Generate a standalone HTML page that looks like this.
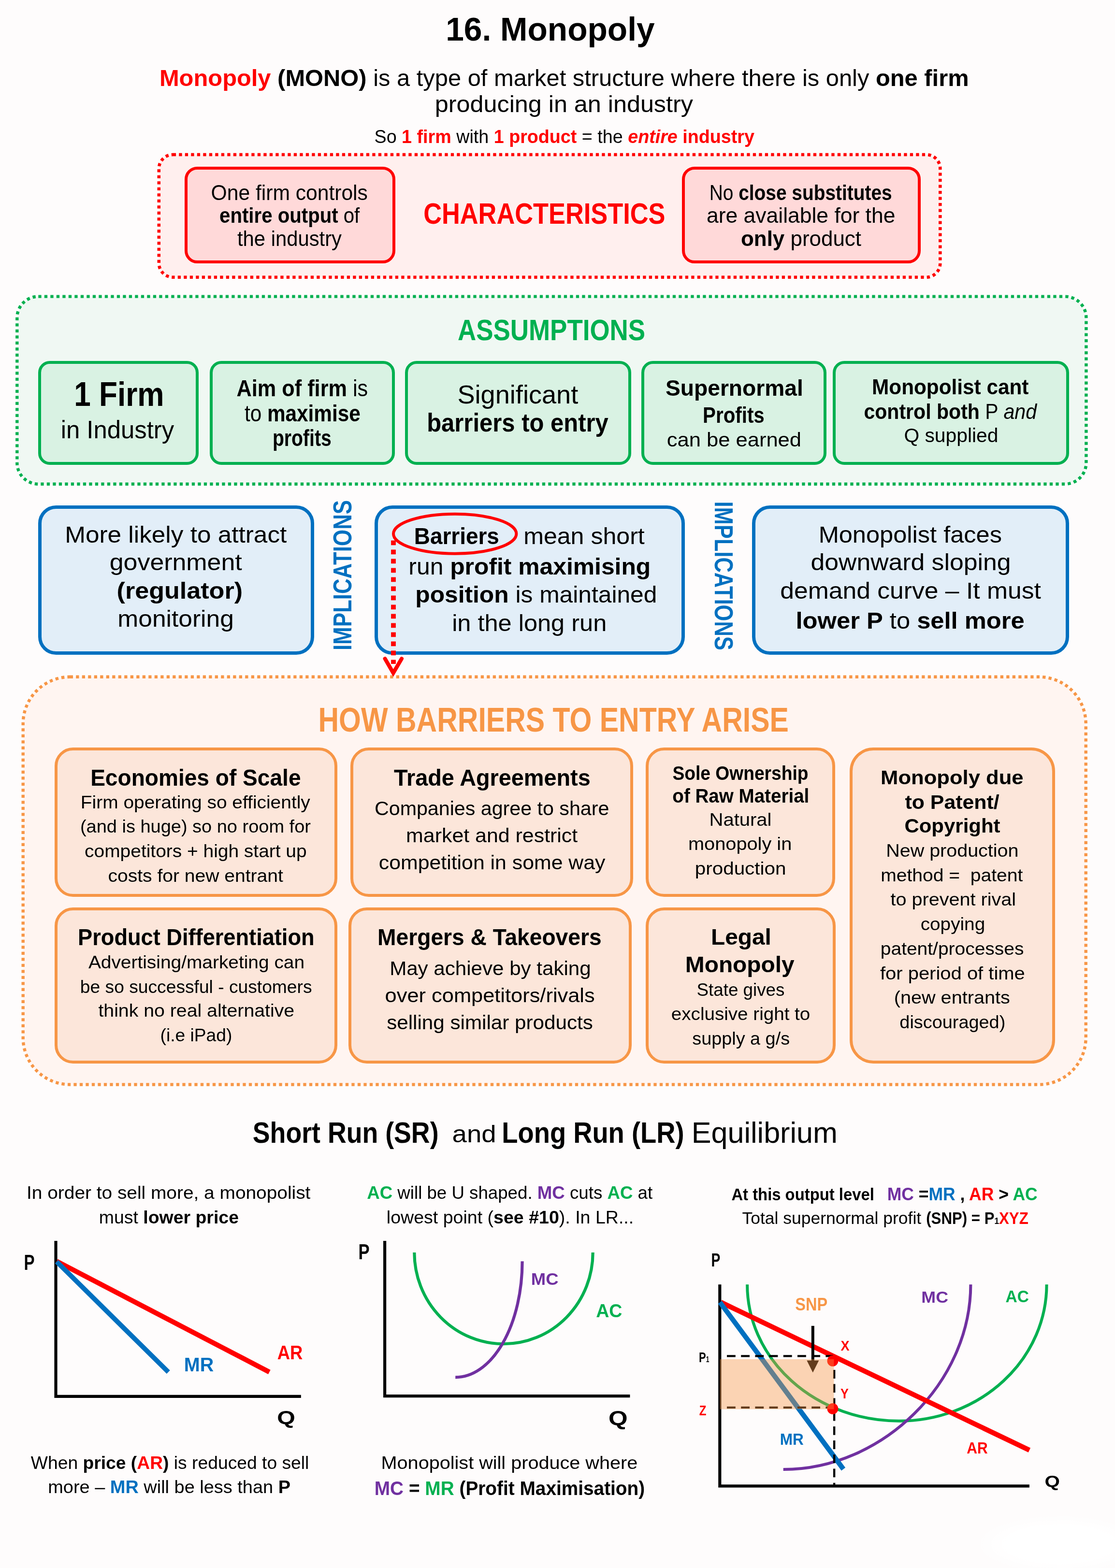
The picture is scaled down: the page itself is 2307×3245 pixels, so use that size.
<!DOCTYPE html>
<html lang="en">
<head>
<meta charset="utf-8">
<title>16. Monopoly</title>
<style>
html,body{margin:0;padding:0;}
body{width:2307px;height:3245px;position:relative;overflow:hidden;background:#fefcfc;font-family:"Liberation Sans",sans-serif;color:#000;}
svg{position:absolute;left:0;top:0;}
.bx{position:absolute;box-sizing:border-box;border-style:solid;}
.red{border-color:#ff0000;background:#ffd9d9;}
.grn{border-color:#00b050;background:#d9f2e3;}
.blu{border-color:#0070c0;background:#e2eef8;}
.org{border-color:#f79646;background:#fce6da;}
.blob{position:absolute;left:2020px;top:3135px;width:287px;height:110px;background:radial-gradient(ellipse at 60% 55%,#fff 0,#fff 45%,rgba(255,255,255,0) 72%);}
.t{position:absolute;left:0;top:0;white-space:pre;line-height:1;transform-origin:0 0;}
</style>
</head>
<body>
<svg width="2307" height="3245" viewBox="0 0 2307 3245">
<rect x="328.8" y="320" width="1616.5" height="253.8" rx="29" ry="29" fill="#ffefee" stroke="#ff0000" stroke-width="6.5" stroke-dasharray="6.3 6.2"/>
<rect x="35.3" y="613.6" width="2212.1" height="388.1" rx="44" ry="44" fill="#f0f8f3" stroke="#00b050" stroke-width="6.4" stroke-dasharray="6.3 6.2"/>
<rect x="47.7" y="1400.8" width="2199.0" height="843.7" rx="97" ry="97" fill="#fff5f1" stroke="#f79646" stroke-width="6.4" stroke-dasharray="6.3 6.2"/>
</svg>
<div class="bx red" style="left:382.0px;top:345.2px;width:436.0px;height:200.3px;border-width:6.5px;border-radius:26px"></div>
<div class="bx red" style="left:1410.5px;top:345.2px;width:494.3px;height:200.3px;border-width:6.5px;border-radius:26px"></div>
<div class="bx grn" style="left:78.7px;top:746.8px;width:332.5px;height:215.2px;border-width:6.3px;border-radius:24px"></div>
<div class="bx grn" style="left:434.0px;top:746.8px;width:383.0px;height:215.2px;border-width:6.3px;border-radius:24px"></div>
<div class="bx grn" style="left:837.8px;top:746.8px;width:468.2px;height:215.2px;border-width:6.3px;border-radius:24px"></div>
<div class="bx grn" style="left:1326.5px;top:746.8px;width:383.6px;height:215.2px;border-width:6.3px;border-radius:24px"></div>
<div class="bx grn" style="left:1722.9px;top:746.8px;width:489.4px;height:215.2px;border-width:6.3px;border-radius:24px"></div>
<div class="bx blu" style="left:78.7px;top:1045.7px;width:571.3px;height:309.3px;border-width:7px;border-radius:37px"></div>
<div class="bx blu" style="left:774.6px;top:1045.7px;width:642.0px;height:309.3px;border-width:7px;border-radius:37px"></div>
<div class="bx blu" style="left:1555.8px;top:1045.7px;width:656.5px;height:309.3px;border-width:7px;border-radius:37px"></div>
<div class="bx org" style="left:112.7px;top:1547.4px;width:585.7px;height:309.1px;border-width:6.3px;border-radius:38px"></div>
<div class="bx org" style="left:724.8px;top:1547.4px;width:585.6px;height:309.1px;border-width:6.3px;border-radius:38px"></div>
<div class="bx org" style="left:1335.9px;top:1547.4px;width:392.4px;height:309.1px;border-width:6.3px;border-radius:38px"></div>
<div class="bx org" style="left:1757.8px;top:1547.3px;width:425.2px;height:653.8px;border-width:6.3px;border-radius:49px"></div>
<div class="bx org" style="left:112.9px;top:1877.6px;width:585.5px;height:323.5px;border-width:6.3px;border-radius:38px"></div>
<div class="bx org" style="left:720.7px;top:1877.6px;width:585.9px;height:323.5px;border-width:6.3px;border-radius:38px"></div>
<div class="bx org" style="left:1336.0px;top:1877.6px;width:393.0px;height:323.5px;border-width:6.3px;border-radius:38px"></div>
<svg width="2307" height="3245" viewBox="0 0 2307 3245">
<!-- Barriers ellipse + dotted arrow -->
<ellipse cx="941.2" cy="1104.7" rx="127.2" ry="41" fill="none" stroke="#ff0000" stroke-width="6"/>
<line x1="814" y1="1118.4" x2="814" y2="1374" stroke="#ff0000" stroke-width="9.8" stroke-dasharray="9.8 9.2"/>
<polyline points="796.6,1363.2 813.7,1392.7 831,1363.2" fill="none" stroke="#ff0000" stroke-width="8" stroke-linecap="round" stroke-linejoin="miter"/>
<!-- graph 1 -->
<polyline points="115.5,2567.9 115.5,2889.9 622.8,2889.9" fill="none" stroke="#000" stroke-width="6.2"/>
<line x1="117.2" y1="2610.2" x2="557.3" y2="2839.5" stroke="#ff0000" stroke-width="10.2"/>
<line x1="117.2" y1="2611" x2="348.3" y2="2839.5" stroke="#0070c0" stroke-width="9.8"/>
<!-- graph 2 -->
<polyline points="796.1,2568 796.1,2889.1 1303.4,2889.1" fill="none" stroke="#000" stroke-width="6.2"/>
<path d="M857.3 2592 A184.7 189.4 0 0 0 1226.7 2592" fill="none" stroke="#00b050" stroke-width="6.2"/>
<path d="M942.2 2850.3 A138.4 240 0 0 0 1080.6 2610.3" fill="none" stroke="#7030a0" stroke-width="6.2"/>
<!-- graph 3 -->
<polyline points="1489.3,2658.2 1489.3,3075.4 2129.9,3075.4" fill="none" stroke="#000" stroke-width="6.2"/>
<path d="M1546.1 2658.2 A313.9 282.6 0 0 0 1860 2940.8 A305.6 282.6 0 0 0 2165.6 2658.2" fill="none" stroke="#00b050" stroke-width="6"/>
<path d="M1620.7 3041.1 C1826.2 3041.1 2008.4 2861.1 2008.4 2658.2" fill="none" stroke="#7030a0" stroke-width="6"/>
<line x1="1491.4" y1="2695" x2="2129.9" y2="3001.1" stroke="#ff0000" stroke-width="10.3"/>
<line x1="1489.6" y1="2695" x2="1745" y2="3040.4" stroke="#0070c0" stroke-width="10.2"/>
<line x1="1504" y1="2806.4" x2="1723.6" y2="2806.4" stroke="#000" stroke-width="4.4" stroke-dasharray="17.8 11.4"/>
<line x1="1504" y1="2912.9" x2="1716" y2="2912.9" stroke="#000" stroke-width="4.4" stroke-dasharray="17.8 11.4"/>
<line x1="1726.1" y1="2805.9" x2="1726.1" y2="3074" stroke="#000" stroke-width="4.4" stroke-dasharray="17.8 11.4"/>
<line x1="1681.8" y1="2743.9" x2="1681.8" y2="2816" stroke="#000" stroke-width="6"/>
<polygon points="1669.3,2815.4 1694.3,2815.4 1681.8,2840.4" fill="#000"/>
<circle cx="1722.9" cy="2816.4" r="11.4" fill="#ff0000"/>
<circle cx="1722.9" cy="2915.4" r="11.4" fill="#ff0000"/>
<rect x="1489.3" y="2812.9" width="236.1" height="103.5" fill="#f79646" fill-opacity="0.4"/>

</svg>
<div class="t" style="font-size:67.62px;transform:translate(926.2px,84.0px) scaleX(1.0010) translate(-4.00px,-57.14px)"><b>16. Monopoly</b></div>
<div class="t" style="font-size:47.8px;transform:translate(333.0px,178.5px) scaleX(1.0219) translate(-3.00px,-40.39px)"><b><span style="color:#ff0000">Monopoly</span></b><b> (MONO)</b> is a type of market structure where there is only <b>one firm</b></div>
<div class="t" style="font-size:47.8px;transform:translate(903.0px,232.8px) scaleX(1.0523) translate(-3.00px,-40.39px)">producing in an industry</div>
<div class="t" style="font-size:39.33px;transform:translate(775.5px,296.5px) scaleX(0.9582) translate(-1.00px,-33.23px)">So <b><span style="color:#ff0000">1 firm</span></b> with <b><span style="color:#ff0000">1 product</span></b> = the <b><i><span style="color:#ff0000">entire</span></i></b><b><span style="color:#ff0000"> industry</span></b></div>
<div class="t" style="font-size:60.51px;transform:translate(877.9px,462.8px) scaleX(0.8655) translate(-2.00px,-51.13px)"><b><span style="color:#ff0000">CHARACTERISTICS</span></b></div>
<div class="t" style="font-size:43.87px;transform:translate(438.5px,413.6px) scaleX(0.9713) translate(-2.00px,-37.07px)">One firm controls</div>
<div class="t" style="font-size:43.87px;transform:translate(455.0px,460.7px) scaleX(0.9161) translate(-1.00px,-37.07px)"><b>entire output</b> of</div>
<div class="t" style="font-size:43.87px;transform:translate(491.0px,509.5px) scaleX(0.9524) translate(0.00px,-37.07px)">the industry</div>
<div class="t" style="font-size:43.87px;transform:translate(1470.3px,413.6px) scaleX(0.8862) translate(-3.00px,-37.07px)">No <b>close substitutes</b></div>
<div class="t" style="font-size:43.87px;transform:translate(1463.0px,460.7px) scaleX(1.0135) translate(-1.00px,-37.07px)">are available for the</div>
<div class="t" style="font-size:43.87px;transform:translate(1534.0px,509.5px) scaleX(1.0014) translate(-1.00px,-37.07px)"><b>only</b> product</div>
<div class="t" style="font-size:60.81px;transform:translate(947.9px,704.3px) scaleX(0.8702) translate(-1.00px,-51.38px)"><b><span style="color:#00b050">ASSUMPTIONS</span></b></div>
<div class="t" style="font-size:70.34px;transform:translate(156.8px,840.5px) scaleX(0.8825) translate(-4.00px,-59.44px)"><b>1 Firm</b></div>
<div class="t" style="font-size:52.04px;transform:translate(128.6px,907.0px) scaleX(0.9771) translate(-3.00px,-43.97px)">in Industry</div>
<div class="t" style="font-size:47.8px;transform:translate(490.5px,820.0px) scaleX(0.9052) translate(-1.00px,-40.39px)"><b>Aim of firm</b> is</div>
<div class="t" style="font-size:47.8px;transform:translate(506.0px,872.6px) scaleX(0.8844) translate(0.00px,-40.39px)">to <b>maximise</b></div>
<div class="t" style="font-size:47.8px;transform:translate(566.4px,923.6px) scaleX(0.8188) translate(-3.00px,-40.39px)"><b>profits</b></div>
<div class="t" style="font-size:53.7px;transform:translate(948.5px,835.0px) scaleX(1.0082) translate(-2.00px,-45.38px)">Significant</div>
<div class="t" style="font-size:53.7px;transform:translate(885.9px,893.1px) scaleX(0.9122) translate(-3.00px,-45.38px)"><b>barriers to entry</b></div>
<div class="t" style="font-size:46.14px;transform:translate(1378.0px,818.9px) scaleX(1.0011) translate(-1.00px,-38.99px)"><b>Supernormal</b></div>
<div class="t" style="font-size:46.14px;transform:translate(1456.7px,875.4px) scaleX(0.8740) translate(-3.00px,-38.99px)"><b>Profits</b></div>
<div class="t" style="font-size:40.84px;transform:translate(1380.8px,924.2px) scaleX(1.0660) translate(-1.00px,-34.51px)">can be earned</div>
<div class="t" style="font-size:44.47px;transform:translate(1806.0px,816.1px) scaleX(0.9514) translate(-2.00px,-37.58px)"><b>Monopolist cant</b></div>
<div class="t" style="font-size:44.47px;transform:translate(1788.3px,867.1px) scaleX(0.9238) translate(-1.00px,-37.58px)"><b>control both</b> P <i>and</i></div>
<div class="t" style="font-size:40.84px;transform:translate(1871.4px,915.3px) scaleX(0.9990) translate(-1.00px,-34.51px)">Q supplied</div>
<div class="t" style="font-size:47.8px;transform:translate(137.4px,1123.0px) scaleX(1.0736) translate(-3.00px,-40.39px)">More likely to attract</div>
<div class="t" style="font-size:47.8px;transform:translate(228.9px,1180.1px) scaleX(1.0855) translate(-2.00px,-40.39px)">government</div>
<div class="t" style="font-size:47.8px;transform:translate(243.8px,1239.4px) scaleX(1.0895) translate(-2.00px,-40.39px)"><b>(regulator)</b></div>
<div class="t" style="font-size:47.8px;transform:translate(246.6px,1297.6px) scaleX(1.0773) translate(-3.00px,-40.39px)">monitoring</div>
<div class="t" style="font-size:47.8px;transform:translate(859.6px,1126.4px) scaleX(0.9610) translate(-3.00px,-40.39px)"><b>Barriers</b></div>
<div class="t" style="font-size:47.8px;transform:translate(1086.3px,1126.4px) scaleX(1.0482) translate(-3.00px,-40.39px)">mean short</div>
<div class="t" style="font-size:47.8px;transform:translate(848.5px,1189.5px) scaleX(1.0419) translate(-3.00px,-40.39px)">run <b>profit maximising</b></div>
<div class="t" style="font-size:47.8px;transform:translate(862.4px,1247.7px) scaleX(1.0403) translate(-3.00px,-40.39px)"><b>position</b> is maintained</div>
<div class="t" style="font-size:47.8px;transform:translate(938.3px,1305.9px) scaleX(1.0567) translate(-3.00px,-40.39px)">in the long run</div>
<div class="t" style="font-size:47.8px;transform:translate(1696.8px,1123.0px) scaleX(1.0576) translate(-3.00px,-40.39px)">Monopolist faces</div>
<div class="t" style="font-size:47.8px;transform:translate(1679.7px,1180.1px) scaleX(1.0819) translate(-2.00px,-40.39px)">downward sloping</div>
<div class="t" style="font-size:47.8px;transform:translate(1616.5px,1239.4px) scaleX(1.0801) translate(-2.00px,-40.39px)">demand curve – It must</div>
<div class="t" style="font-size:47.8px;transform:translate(1649.7px,1300.9px) scaleX(1.0602) translate(-3.00px,-40.39px)"><b>lower P</b> to <b>sell more</b></div>
<div class="t" style="font-size:52.95px;transform:translate(727.7px,1343.6px) rotate(-90deg) scaleX(0.8288) translate(-3.00px,-44.74px)"><b><span style="color:#0070c0">IMPLICATIONS</span></b></div>
<div class="t" style="font-size:52.95px;transform:translate(1478.6px,1040.0px) rotate(90deg) scaleX(0.8210) translate(-3.00px,-44.74px)"><b><span style="color:#0070c0">IMPLICATIONS</span></b></div>
<div class="t" style="font-size:69.59px;transform:translate(661.8px,1515.0px) scaleX(0.8479) translate(-4.00px,-58.80px)"><b><span style="color:#f79646">HOW BARRIERS TO ENTRY ARISE</span></b></div>
<div class="t" style="font-size:48.1px;transform:translate(190.0px,1625.3px) scaleX(0.9582) translate(-3.00px,-40.64px)"><b>Economies of Scale</b></div>
<div class="t" style="font-size:36.0px;transform:translate(169.0px,1673.7px) scaleX(1.0806) translate(-2.00px,-30.42px)">Firm operating so efficiently</div>
<div class="t" style="font-size:36.0px;transform:translate(168.0px,1723.6px) scaleX(1.0548) translate(-2.00px,-30.42px)">(and is huge) so no room for</div>
<div class="t" style="font-size:36.0px;transform:translate(176.2px,1774.6px) scaleX(1.0806) translate(-1.00px,-30.42px)">competitors + high start up</div>
<div class="t" style="font-size:36.0px;transform:translate(224.5px,1825.0px) scaleX(1.0845) translate(-1.00px,-30.42px)">costs for new entrant</div>
<div class="t" style="font-size:48.1px;transform:translate(815.0px,1625.3px) scaleX(0.9734) translate(0.00px,-40.64px)"><b>Trade Agreements</b></div>
<div class="t" style="font-size:41.15px;transform:translate(777.0px,1687.7px) scaleX(1.0011) translate(-2.00px,-34.77px)">Companies agree to share</div>
<div class="t" style="font-size:41.15px;transform:translate(842.2px,1743.8px) scaleX(1.0424) translate(-2.00px,-34.77px)">market and restrict</div>
<div class="t" style="font-size:41.15px;transform:translate(784.9px,1799.8px) scaleX(1.0403) translate(-1.00px,-34.77px)">competition in some way</div>
<div class="t" style="font-size:40.24px;transform:translate(1392.3px,1615.3px) scaleX(0.9248) translate(-1.00px,-34.00px)"><b>Sole Ownership</b></div>
<div class="t" style="font-size:40.24px;transform:translate(1392.3px,1661.8px) scaleX(0.9588) translate(-1.00px,-34.00px)"><b>of Raw Material</b></div>
<div class="t" style="font-size:36.0px;transform:translate(1469.8px,1709.6px) scaleX(1.1102) translate(-2.00px,-30.42px)">Natural</div>
<div class="t" style="font-size:36.0px;transform:translate(1426.2px,1759.5px) scaleX(1.1037) translate(-2.00px,-30.42px)">monopoly in</div>
<div class="t" style="font-size:36.0px;transform:translate(1440.1px,1810.8px) scaleX(1.1213) translate(-2.00px,-30.42px)">production</div>
<div class="t" style="font-size:39.78px;transform:translate(1824.3px,1623.4px) scaleX(1.0966) translate(-2.00px,-33.61px)"><b>Monopoly due</b></div>
<div class="t" style="font-size:39.78px;transform:translate(1872.5px,1674.2px) scaleX(1.0772) translate(0.00px,-33.61px)"><b>to Patent/</b></div>
<div class="t" style="font-size:39.78px;transform:translate(1872.5px,1724.1px) scaleX(1.0551) translate(-1.00px,-33.61px)"><b>Copyright</b></div>
<div class="t" style="font-size:36.0px;transform:translate(1835.4px,1773.5px) scaleX(1.0966) translate(-2.00px,-30.42px)">New production</div>
<div class="t" style="font-size:36.0px;transform:translate(1824.3px,1824.2px) scaleX(1.0851) translate(-2.00px,-30.42px)">method =  patent</div>
<div class="t" style="font-size:36.0px;transform:translate(1842.6px,1874.9px) scaleX(1.0990) translate(0.00px,-30.42px)">to prevent rival</div>
<div class="t" style="font-size:36.0px;transform:translate(1905.8px,1925.6px) scaleX(1.0755) translate(-1.00px,-30.42px)">copying</div>
<div class="t" style="font-size:36.0px;transform:translate(1824.0px,1976.3px) scaleX(1.0816) translate(-2.00px,-30.42px)">patent/processes</div>
<div class="t" style="font-size:36.0px;transform:translate(1820.9px,2027.0px) scaleX(1.1104) translate(0.00px,-30.42px)">for period of time</div>
<div class="t" style="font-size:36.0px;transform:translate(1851.9px,2077.7px) scaleX(1.1008) translate(-2.00px,-30.42px)">(new entrants</div>
<div class="t" style="font-size:36.0px;transform:translate(1862.4px,2128.4px) scaleX(1.0520) translate(-1.00px,-30.42px)">discouraged)</div>
<div class="t" style="font-size:48.1px;transform:translate(163.9px,1956.1px) scaleX(0.9396) translate(-3.00px,-40.64px)"><b>Product Differentiation</b></div>
<div class="t" style="font-size:36.0px;transform:translate(182.9px,2004.6px) scaleX(1.0796) translate(0.00px,-30.42px)">Advertising/marketing can</div>
<div class="t" style="font-size:36.0px;transform:translate(167.9px,2055.0px) scaleX(1.0335) translate(-2.00px,-30.42px)">be so successful - customers</div>
<div class="t" style="font-size:36.0px;transform:translate(203.4px,2104.9px) scaleX(1.0900) translate(0.00px,-30.42px)">think no real alternative</div>
<div class="t" style="font-size:36.0px;transform:translate(333.6px,2155.9px) scaleX(1.0331) translate(-2.00px,-30.42px)">(i.e iPad)</div>
<div class="t" style="font-size:48.1px;transform:translate(784.0px,1956.1px) scaleX(0.9596) translate(-3.00px,-40.64px)"><b>Mergers &amp; Takeovers</b></div>
<div class="t" style="font-size:41.15px;transform:translate(809.2px,2019.0px) scaleX(1.0232) translate(-3.00px,-34.77px)">May achieve by taking</div>
<div class="t" style="font-size:41.15px;transform:translate(797.6px,2074.9px) scaleX(1.0550) translate(-1.00px,-34.77px)">over competitors/rivals</div>
<div class="t" style="font-size:41.15px;transform:translate(801.2px,2130.4px) scaleX(1.0252) translate(-1.00px,-34.77px)">selling similar products</div>
<div class="t" style="font-size:46.14px;transform:translate(1474.0px,1955.2px) scaleX(1.0379) translate(-3.00px,-38.99px)"><b>Legal</b></div>
<div class="t" style="font-size:46.14px;transform:translate(1420.9px,2011.8px) scaleX(1.0376) translate(-3.00px,-38.99px)"><b>Monopoly</b></div>
<div class="t" style="font-size:36.0px;transform:translate(1442.6px,2061.4px) scaleX(1.0210) translate(-1.00px,-30.42px)">State gives</div>
<div class="t" style="font-size:36.0px;transform:translate(1389.9px,2111.6px) scaleX(1.0722) translate(-1.00px,-30.42px)">exclusive right to</div>
<div class="t" style="font-size:36.0px;transform:translate(1433.3px,2162.4px) scaleX(1.0504) translate(-1.00px,-30.42px)">supply a g/s</div>
<div class="t" style="font-size:60.51px;transform:translate(523.7px,2365.3px) scaleX(0.8874) translate(-1.00px,-51.13px)"><b>Short Run (SR)</b></div>
<div class="t" style="font-size:49.92px;transform:translate(937.7px,2365.3px) scaleX(1.0941) translate(-2.00px,-42.18px)">and</div>
<div class="t" style="font-size:60.51px;transform:translate(1041.9px,2365.3px) scaleX(0.8982) translate(-4.00px,-51.13px)"><b>Long Run (LR)</b></div>
<div class="t" style="font-size:60.51px;transform:translate(1434.7px,2365.3px) scaleX(1.0101) translate(-4.00px,-51.13px)">Equilibrium</div>
<div class="t" style="font-size:36.76px;transform:translate(58.2px,2481.7px) scaleX(1.0572) translate(-3.00px,-31.06px)">In order to sell more, a monopolist</div>
<div class="t" style="font-size:36.76px;transform:translate(206.9px,2532.6px) scaleX(1.0183) translate(-2.00px,-31.06px)">must <b>lower price</b></div>
<div class="t" style="font-size:36.76px;transform:translate(759.2px,2481.7px) scaleX(0.9977) translate(0.00px,-31.06px)"><b><span style="color:#00b050">AC</span></b> will be U shaped. <b><span style="color:#7030a0">MC</span></b> cuts <b><span style="color:#00b050">AC</span></b> at</div>
<div class="t" style="font-size:36.76px;transform:translate(801.9px,2533.2px) scaleX(1.0217) translate(-2.00px,-31.06px)">lowest point (<b>see #10</b>). In LR...</div>
<div class="t" style="font-size:35.4px;transform:translate(1513.4px,2485.2px) scaleX(0.9274) translate(0.00px,-29.91px)"><b>At this output level</b></div>
<div class="t" style="font-size:36.46px;transform:translate(1837.6px,2485.2px) scaleX(0.9740) translate(-2.00px,-30.81px)"><b><span style="color:#7030a0">MC</span></b><b> =</b><b><span style="color:#0070c0">MR</span></b><b> , </b><b><span style="color:#ff0000">AR</span></b><b> &gt; </b><b><span style="color:#00b050">AC</span></b></div>
<div class="t" style="font-size:34.19px;transform:translate(1535.5px,2532.8px) scaleX(1.0381) translate(0.00px,-28.89px)">Total supernormal profit</div>
<div class="t" style="font-size:34.19px;transform:translate(1917.1px,2532.8px) scaleX(0.9130) translate(-1.00px,-28.89px)"><b>(SNP) = P</b><b><span style="font-size:.55em">1</span></b><b><span style="color:#ff0000">XYZ</span></b></div>
<div class="t" style="font-size:36.76px;transform:translate(63.8px,3041.0px) scaleX(1.0136) translate(0.00px,-31.06px)">When <b>price (</b><b><span style="color:#ff0000">AR</span></b><b>)</b> is reduced to sell</div>
<div class="t" style="font-size:36.76px;transform:translate(101.3px,3091.5px) scaleX(1.0321) translate(-2.00px,-31.06px)">more – <b><span style="color:#0070c0">MR</span></b> will be less than <b>P</b></div>
<div class="t" style="font-size:36.76px;transform:translate(791.8px,3041.0px) scaleX(1.0780) translate(-3.00px,-31.06px)">Monopolist will produce where</div>
<div class="t" style="font-size:40.39px;transform:translate(776.7px,3094.5px) scaleX(0.9610) translate(-2.00px,-34.13px)"><b><span style="color:#7030a0">MC</span></b><b> = </b><b><span style="color:#00b050">MR</span></b><b> (Profit Maximisation)</b></div>
<div class="t" style="font-size:44.32px;transform:translate(50.9px,2628.3px) scaleX(0.7481) translate(-2.00px,-37.45px)"><b>P</b></div>
<div class="t" style="font-size:40.84px;transform:translate(382.8px,2838.6px) scaleX(0.9671) translate(-2.00px,-34.51px)"><b><span style="color:#0070c0">MR</span></b></div>
<div class="t" style="font-size:40.84px;transform:translate(574.6px,2813.6px) scaleX(0.8924) translate(-1.00px,-34.51px)"><b><span style="color:#ff0000">AR</span></b></div>
<div class="t" style="font-size:39.33px;transform:translate(574.6px,2947.2px) scaleX(1.2286) translate(-1.00px,-33.23px)"><b>Q</b></div>
<div class="t" style="font-size:43.57px;transform:translate(743.1px,2606.8px) scaleX(0.7962) translate(-2.00px,-36.82px)"><b>P</b></div>
<div class="t" style="font-size:35.85px;transform:translate(1100.9px,2660.7px) scaleX(1.0181) translate(-2.00px,-30.29px)"><b><span style="color:#7030a0">MC</span></b></div>
<div class="t" style="font-size:39.33px;transform:translate(1233.2px,2726.2px) scaleX(0.9539) translate(0.00px,-33.23px)"><b><span style="color:#00b050">AC</span></b></div>
<div class="t" style="font-size:41.6px;transform:translate(1260.3px,2949.5px) scaleX(1.2233) translate(-1.00px,-35.15px)"><b>Q</b></div>
<div class="t" style="font-size:38.88px;transform:translate(1472.9px,2621.4px) scaleX(0.7261) translate(-2.00px,-32.85px)"><b>P</b></div>
<div class="t" style="font-size:37.82px;transform:translate(1646.1px,2712.9px) scaleX(0.8606) translate(-1.00px,-31.96px)"><b><span style="color:#f79646">SNP</span></b></div>
<div class="t" style="font-size:33.28px;transform:translate(1908.5px,2695.7px) scaleX(1.0762) translate(-2.00px,-28.12px)"><b><span style="color:#7030a0">MC</span></b></div>
<div class="t" style="font-size:34.79px;transform:translate(2080.6px,2695.7px) scaleX(0.9617) translate(0.00px,-29.40px)"><b><span style="color:#00b050">AC</span></b></div>
<div class="t" style="font-size:28.74px;transform:translate(1739.6px,2795.0px) scaleX(0.9421) translate(0.00px,-24.29px)"><b><span style="color:#ff0000">X</span></b></div>
<div class="t" style="font-size:28.74px;transform:translate(1739.0px,2894.0px) scaleX(0.8789) translate(0.00px,-24.29px)"><b><span style="color:#ff0000">Y</span></b></div>
<div class="t" style="font-size:28.74px;transform:translate(1446.8px,2819.0px) scaleX(0.7620) translate(-1.00px,-24.29px)"><b>P</b><b><span style="font-size:.55em">1</span></b></div>
<div class="t" style="font-size:30.25px;transform:translate(1446.8px,2929.6px) scaleX(0.7889) translate(0.00px,-25.56px)"><b><span style="color:#ff0000">Z</span></b></div>
<div class="t" style="font-size:33.28px;transform:translate(1615.7px,2990.4px) scaleX(0.9495) translate(-2.00px,-28.12px)"><b><span style="color:#0070c0">MR</span></b></div>
<div class="t" style="font-size:34.04px;transform:translate(2000.2px,3007.5px) scaleX(0.8831) translate(0.00px,-28.76px)"><b><span style="color:#ff0000">AR</span></b></div>
<div class="t" style="font-size:32.52px;transform:translate(2162.7px,3077.9px) scaleX(1.2435) translate(-1.00px,-27.48px)"><b>Q</b></div>
<div class="blob"></div>
</body>
</html>
